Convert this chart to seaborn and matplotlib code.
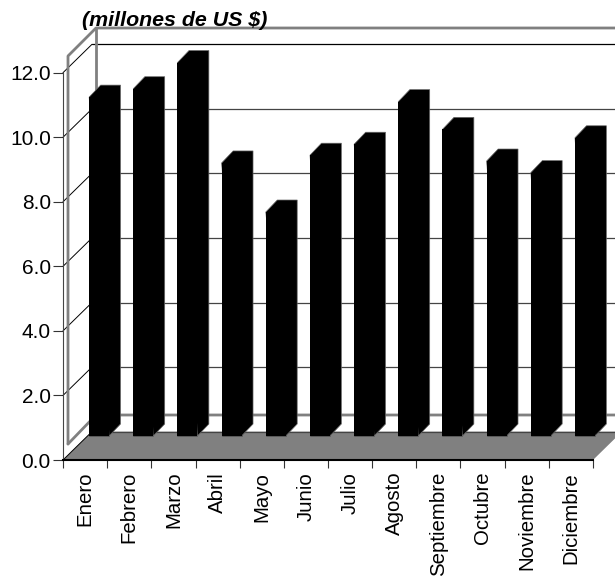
# Libraries
import matplotlib
matplotlib.use('Agg')
import matplotlib.pyplot as plt
import pandas as pd
import seaborn as sns

# Data
months = ['Enero', 'Febrero', 'Marzo', 'Abril', 'Mayo', 'Junio', 'Julio',
          'Agosto', 'Septiembre', 'Octubre', 'Noviembre', 'Diciembre']
values = [10.5, 10.76, 11.57, 8.46, 6.94, 8.7, 9.04, 10.36, 9.5, 8.52, 8.16, 9.24]
y_ticks = [0, 2, 4, 6, 8, 10, 12]
title = '(millones de US $)'

W, H = 615, 579
GRAY = '#808080'

sns.set_theme(style='white')
plt.rcParams['font.family'] = ['Liberation Sans', 'DejaVu Sans']

df = pd.DataFrame({'month': months, 'value': values})

fig = plt.figure(figsize=(W / 100, H / 100), dpi=100)
fig.patch.set_facecolor('white')


def box(left, right, top, bottom):
    return [left / W, 1 - bottom / H, (right - left) / W, (bottom - top) / H]


# main axes: front plane, pixel box of the value axis
ax = fig.add_axes(box(63, 593, 72.7, 460))
ax.set_xlim(-0.5, 11.5)
ax.set_ylim(0, 12)
px = 530 / 12
py = 387.3 / 12
x0, x1 = -0.5, 11.5
# depth of the walls
dx = 29 / px
dy = 28.4 / py

# floor
ax.fill([x0, x1, x1 + dx, x0 + dx], [0, 0, dy, dy], color=GRAY, lw=0, clip_on=False, zorder=1)

# gridlines along side wall and back wall
for v in y_ticks:
    ax.plot([x0, x0 + dx], [v, v + dy], color='black', lw=0.7, clip_on=False, zorder=2)
    ax.plot([x0 + dx, x1 + dx], [v + dy, v + dy], color='black' if v == 12 else '#444444',
            lw=0.9, clip_on=False, zorder=2)

# grey wall frame
fl, fr = x0 + 5 / px, x0 + 33 / px
ftop_l, ftop_b = (460 - 56) / py, (460 - 28) / py
fbot_l, fbot_b = (460 - 444) / py, (460 - 415) / py
ax.plot([fl, fl, fr, x1 + dx], [fbot_l, ftop_l, ftop_b, ftop_b], color=GRAY, lw=2, clip_on=False, zorder=3)
ax.plot([fr, fr], [ftop_b, fbot_b], color=GRAY, lw=2, clip_on=False, zorder=3)
ax.plot([fl, fr, x1 + dx], [fbot_l, fbot_b, fbot_b], color=GRAY, lw=2, clip_on=False, zorder=3)

sns.despine(ax=ax, top=True, right=True)
ax.spines['left'].set_color('#444444')
ax.spines['left'].set_linewidth(0.8)
ax.spines['bottom'].set_color('black')
ax.spines['bottom'].set_linewidth(1.5)
ax.set_yticks(y_ticks, [f'{v:.1f}' for v in y_ticks])
ax.set_xticks([i - 0.5 for i in range(13)], [''] * 13)
ax.set_xticks(range(12), months, minor=True, rotation=90)
ax.tick_params(axis='y', left=True, length=7, width=0.8, color='#333333', pad=1.8, labelsize=15, labelcolor='black')
ax.tick_params(axis='x', which='major', bottom=True, length=6, width=0.8, color='#333333')
ax.tick_params(axis='x', which='minor', bottom=False, length=0, pad=8.5, labelsize=14.7, labelcolor='black')
ax.patch.set_visible(False)

# bars sit on the floor, shifted into the depth
ax_bar = fig.add_axes(box(63 + 14, 593 + 14, 72.7 - 24, 460 - 24))
ax_bar.patch.set_visible(False)
sns.barplot(data=df, x='month', y='value', color='black', width=0.45, saturation=1,
            edgecolor='#666666', linewidth=0.5, ax=ax_bar, clip_on=False)
ax_bar.set_xlim(-0.5, 11.5)
ax_bar.set_ylim(0, 12)
ax_bar.axis('off')

# side and top faces from each bar's geometry
bar_dx = 11.5 / px
bar_dy = 12 / py
for p in list(ax_bar.patches):
    l, w, h = p.get_x(), p.get_width(), p.get_height()
    r = l + w
    ax_bar.fill([l, l + bar_dx, r + bar_dx, r + bar_dx, r],
                [h, h + bar_dy, h + bar_dy, bar_dy, 0],
                color='black', ec='#666666', lw=0.5, clip_on=False)
    ax_bar.fill([l, r, r, l], [0, 0, h, h], color='black', lw=0, clip_on=False)

fig.text(82 / W, 1 - 26.5 / H, title, fontsize=15.4, fontweight='bold', fontstyle='italic',
         color='black', ha='left', va='baseline')

fig.savefig('out.png', dpi=100)
